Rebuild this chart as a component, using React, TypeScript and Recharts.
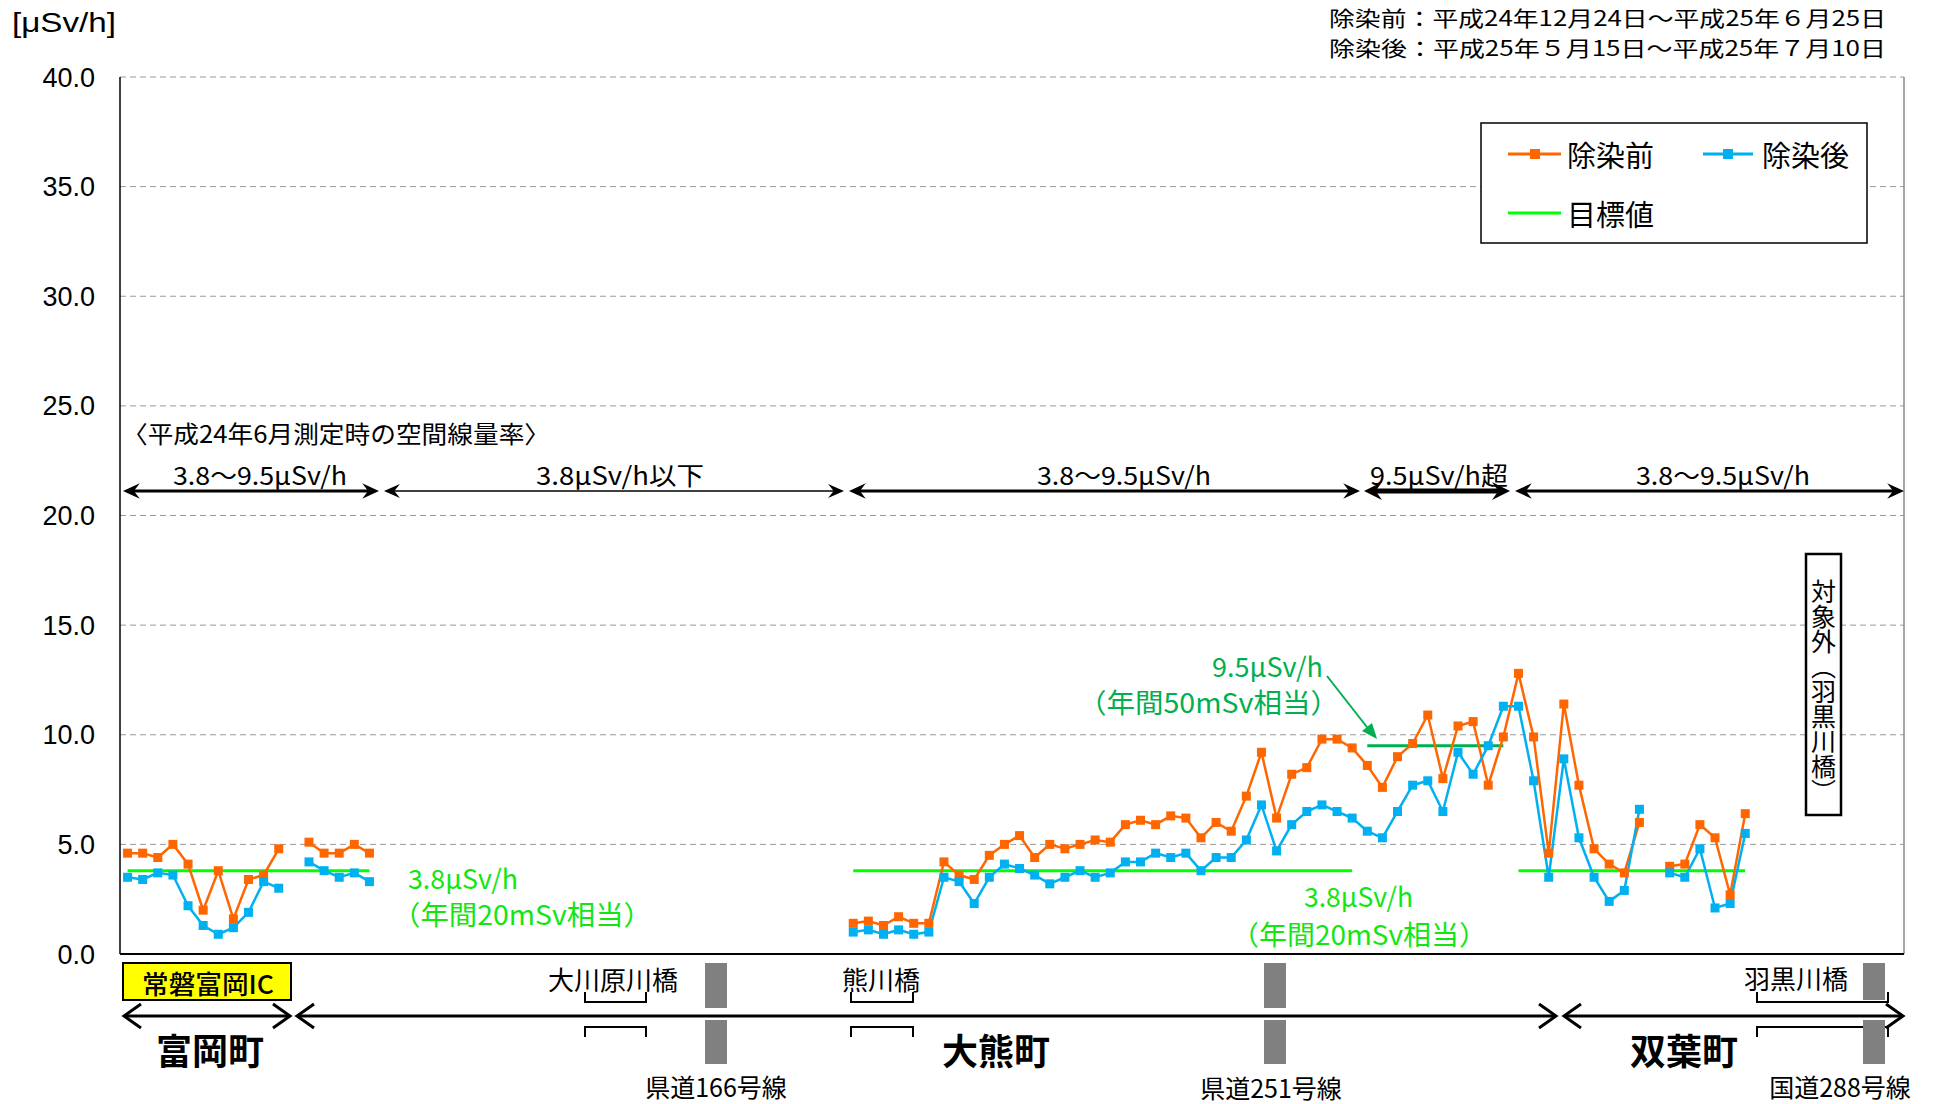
import React from 'react';
import { LineChart, Line, XAxis, YAxis, CartesianGrid, ReferenceLine } from 'recharts';

// ---------- data ----------
const categoryCount = 118;
const xTicks = [0, 5, 10, 15, 20, 25, 30, 35, 40, 45, 50, 55, 60, 65, 70, 75, 80, 85, 90, 95, 100, 105, 110, 115];
const yTicks = [0, 5, 10, 15, 20, 25, 30, 35, 40];

// 富岡町 section (categories 0..16)
const tomiokaStart = 0;
const beforeTomioka = [4.6, 4.6, 4.4, 5.0, 4.1, 2.0, 3.8, 1.6, 3.4, 3.6, 4.8, null, 5.1, 4.6, 4.6, 5.0, 4.6];
const afterTomioka = [3.5, 3.4, 3.7, 3.6, 2.2, 1.3, 0.9, 1.2, 1.9, 3.3, 3.0, null, 4.2, 3.8, 3.5, 3.7, 3.3];

// 大熊町・双葉町 section (categories 48..107)
const okumaStart = 48;
const beforeOkuma = [
  1.4, 1.5, 1.3, 1.7, 1.4, 1.4,
  4.2, 3.6, 3.4, 4.5, 5.0, 5.4, 4.4, 5.0, 4.8, 5.0,
  5.2, 5.1, 5.9, 6.1, 5.9, 6.3, 6.2, 5.3, 6.0, 5.6,
  7.2, 9.2, 6.2, 8.2, 8.5, 9.8, 9.8, 9.4, 8.6, 7.6,
  9.0, 9.6, 10.9, 8.0, 10.4, 10.6, 7.7, 9.9, 12.8, 9.9,
  4.6, 11.4, 7.7, 4.8, 4.1, 3.7, 6.0, null, 4.0, 4.1,
  5.9, 5.3, 2.7, 6.4,
];
const afterOkuma = [
  1.0, 1.1, 0.9, 1.1, 0.9, 1.0,
  3.5, 3.3, 2.3, 3.5, 4.1, 3.9, 3.6, 3.2, 3.5, 3.8,
  3.5, 3.7, 4.2, 4.2, 4.6, 4.4, 4.6, 3.8, 4.4, 4.4,
  5.2, 6.8, 4.7, 5.9, 6.5, 6.8, 6.5, 6.2, 5.6, 5.3,
  6.5, 7.7, 7.9, 6.5, 9.2, 8.2, 9.5, 11.3, 11.3, 7.9,
  3.5, 8.9, 5.3, 3.5, 2.4, 2.9, 6.6, null, 3.7, 3.5,
  4.8, 2.1, 2.3, 5.5,
];

// 目標値 runs [first category, last category]
const targetValue = 3.8;
const targetRuns = [[0, 16], [48, 81], [92, 107]];
const highValue = 9.5;
const highRuns = [[82, 91]];

const pick = (arr: (number | null)[], start: number, i: number) =>
  i >= start && i < start + arr.length ? arr[i - start] : null;
const inRuns = (runs: number[][], i: number) => runs.some(([a, b]) => i >= a && i <= b);

const data = Array.from({ length: categoryCount }, (_, i) => ({
  x: i + 0.5,
  before: pick(beforeTomioka, tomiokaStart, i) ?? pick(beforeOkuma, okumaStart, i),
  after: pick(afterTomioka, tomiokaStart, i) ?? pick(afterOkuma, okumaStart, i),
  target: inRuns(targetRuns, i) ? targetValue : null,
  high: inRuns(highRuns, i) ? highValue : null,
}));

// ---------- styles ----------
const ORANGE = '#ff6600';
const BLUE = '#00b0f0';
const LIME = '#00ff00';
const LIME_TEXT = '#11e611';
const DARKGREEN = '#00b050';
const JP = "'Noto Sans CJK JP', 'Noto Sans', sans-serif";
const NUM = "'Liberation Sans', Arial, sans-serif";

const squareDot = (color: string) => (props: any) => {
  const { cx, cy, index } = props;
  if (cx == null || cy == null || Number.isNaN(cx) || Number.isNaN(cy)) return <g key={`d${index}`} />;
  return <rect key={`d${index}`} x={cx - 4.5} y={cy - 4.5} width={9} height={9} fill={color} />;
};

function FilledArrow({ x1, x2, y, w }: { x1: number; x2: number; y: number; w: number }) {
  const L = 15 + w * 0.6;
  const H = 6 + w * 0.6;
  return (
    <g>
      <line x1={x1 + L * 0.5} x2={x2 - L * 0.5} y1={y} y2={y} stroke="#000" strokeWidth={w} />
      <polygon points={`${x1},${y} ${x1 + L},${y - H} ${x1 + L * 0.65},${y} ${x1 + L},${y + H}`} fill="#000" />
      <polygon points={`${x2},${y} ${x2 - L},${y - H} ${x2 - L * 0.65},${y} ${x2 - L},${y + H}`} fill="#000" />
    </g>
  );
}

function ChevronArrow({ x1, x2, y }: { x1: number; x2: number; y: number }) {
  return (
    <g stroke="#000" strokeWidth={3} fill="none">
      <line x1={x1 + 1} x2={x2 - 1} y1={y} y2={y} />
      <polyline points={`${x1 + 18},${y - 12} ${x1 + 1},${y} ${x1 + 18},${y + 12}`} />
      <polyline points={`${x2 - 18},${y - 12} ${x2 - 1},${y} ${x2 - 18},${y + 12}`} />
    </g>
  );
}

function Brackets({ x1, x2 }: { x1: number; x2: number }) {
  return (
    <g stroke="#000" strokeWidth={2} fill="none">
      <path d={`M${x1},992 L${x1},1002 L${x2},1002 L${x2},992`} />
      <path d={`M${x1},1037 L${x1},1027 L${x2},1027 L${x2},1037`} />
    </g>
  );
}

const zones = [
  { x1: 123, x2: 379, w: 3, label: '3.8～9.5μSv/h', lx: 173, lw: 174 },
  { x1: 384, x2: 844, w: 1.5, label: '3.8μSv/h以下', lx: 536, lw: 168 },
  { x1: 849, x2: 1360, w: 3, label: '3.8～9.5μSv/h', lx: 1037, lw: 174 },
  { x1: 1364, x2: 1510, w: 5, label: '9.5μSv/h超', lx: 1370, lw: 138 },
  { x1: 1515, x2: 1904, w: 3, label: '3.8～9.5μSv/h', lx: 1636, lw: 174 },
];

function T(props: any) {
  const { children, ...rest } = props;
  return (
    <text fontFamily={JP} dominantBaseline="central" lengthAdjust="spacingAndGlyphs" {...rest}>
      {children}
    </text>
  );
}

function Overlay() {
  return (
    <svg width={1935} height={1104} style={{ position: 'absolute', left: 0, top: 0, pointerEvents: 'none' }}>
      {/* unit */}
      <T x={12} y={22} fontFamily={NUM} fontSize={28} textLength={104}>[μSv/h]</T>
      {/* period */}
      <T x={1329} y={17} fontSize={21} textLength={557}>除染前：平成24年12月24日～平成25年６月25日</T>
      <T x={1329} y={47} fontSize={21} textLength={557}>除染後：平成25年５月15日～平成25年７月10日</T>

      {/* legend */}
      <rect x={1481} y={123} width={386} height={120} fill="#fff" stroke="#000" strokeWidth={1.5} />
      <line x1={1508} x2={1561} y1={154} y2={154} stroke={ORANGE} strokeWidth={3} />
      <rect x={1530} y={149} width={10} height={10} fill={ORANGE} />
      <T x={1567} y={154} fontSize={29}>除染前</T>
      <line x1={1703} x2={1753} y1={154} y2={154} stroke={BLUE} strokeWidth={3} />
      <rect x={1723} y={149} width={10} height={10} fill={BLUE} />
      <T x={1762} y={154} fontSize={29}>除染後</T>
      <line x1={1508} x2={1561} y1={213} y2={213} stroke={LIME} strokeWidth={3} />
      <T x={1567} y={213} fontSize={29}>目標値</T>

      {/* June 2012 air dose zones */}
      <T x={122} y={432} fontSize={24} textLength={428}>〈平成24年6月測定時の空間線量率〉</T>
      {zones.map((z, k) => (
        <g key={k}>
          <FilledArrow x1={z.x1} x2={z.x2} y={491} w={z.w} />
          <T x={z.lx} y={474} fontSize={25} textLength={z.lw}>{z.label}</T>
        </g>
      ))}

      {/* target labels */}
      <T x={408} y={877} fontSize={27} fill={LIME_TEXT} textLength={110}>3.8μSv/h</T>
      <T x={392} y={913} fontSize={27} fill={LIME_TEXT} textLength={260}>（年間20mSv相当）</T>
      <T x={1304} y={895} fontSize={27} fill={LIME_TEXT} textLength={109}>3.8μSv/h</T>
      <T x={1231} y={933} fontSize={27} fill={LIME_TEXT} textLength={256}>（年間20mSv相当）</T>
      <T x={1212} y={665} fontSize={27} fill={DARKGREEN} textLength={111}>9.5μSv/h</T>
      <T x={1078} y={701} fontSize={27} fill={DARKGREEN} textLength={261}>（年間50mSv相当）</T>
      <line x1={1327} y1={676} x2={1370} y2={731} stroke={DARKGREEN} strokeWidth={2} />
      <polygon points="1377,739 1362,731 1372,723" fill={DARKGREEN} />

      {/* out of scope box */}
      <rect x={1806} y={554} width={35} height={261} fill="#fff" stroke="#000" strokeWidth={2.5} />
      <text x={1823.5} y={579} fontFamily={JP} fontSize={25} style={{ writingMode: 'vertical-rl' } as any}>対象外（羽黒川橋）</text>

      {/* below axis */}
      <rect x={123} y={963} width={168} height={37} fill="#ffff00" stroke="#000" strokeWidth={2} />
      <T x={142} y={982} fontSize={26} fontWeight={500} textLength={132}>常磐富岡IC</T>

      <T x={613} y={978} fontSize={26} textAnchor="middle">大川原川橋</T>
      <Brackets x1={585} x2={646} />
      <T x={881} y={978} fontSize={26} textAnchor="middle">熊川橋</T>
      <Brackets x1={851} x2={913} />
      <T x={1796} y={977} fontSize={26} textAnchor="middle">羽黒川橋</T>
      <Brackets x1={1757} x2={1888} />

      <rect x={705} y={963} width={22} height={45} fill="#808080" />
      <rect x={705} y={1020} width={22} height={44} fill="#808080" />
      <rect x={1264} y={963} width={22} height={45} fill="#808080" />
      <rect x={1264} y={1020} width={22} height={44} fill="#808080" />
      <rect x={1863} y={963} width={22} height={37} fill="#808080" />
      <rect x={1863} y={1020} width={22} height={44} fill="#808080" />

      <T x={716} y={1086} fontSize={25} textAnchor="middle">県道166号線</T>
      <T x={1271} y={1087} fontSize={25} textAnchor="middle">県道251号線</T>
      <T x={1840} y={1086} fontSize={25} textAnchor="middle">国道288号線</T>

      <ChevronArrow x1={123} x2={291} y={1016} />
      <ChevronArrow x1={296} x2={1557} y={1016} />
      <ChevronArrow x1={1563} x2={1904} y={1016} />

      <T x={210} y={1049} fontSize={36} fontWeight={700} textAnchor="middle">富岡町</T>
      <T x={996} y={1049} fontSize={36} fontWeight={700} textAnchor="middle">大熊町</T>
      <T x={1684} y={1049} fontSize={36} fontWeight={700} textAnchor="middle">双葉町</T>
    </svg>
  );
}

export default function App() {
  return (
    <div style={{ position: 'relative', width: 1935, height: 1104, background: '#fff' }}>
      <style>{`body{margin:0;}`}</style>
      <LineChart width={1935} height={1104} data={data} margin={{ top: 77, right: 31, bottom: 120, left: 0 }}>
        <CartesianGrid vertical={false} stroke="#999" strokeDasharray="6 4" />
        <XAxis
          type="number"
          dataKey="x"
          domain={[0, categoryCount]}
          ticks={xTicks}
          interval={0}
          height={30}
          tick={false}
          tickSize={-8}
          tickLine={{ stroke: '#888', strokeWidth: 1.5 }}
          axisLine={{ stroke: '#000', strokeWidth: 2 }}
          allowDataOverflow
        />
        <YAxis
          type="number"
          domain={[0, 40]}
          ticks={yTicks}
          interval={0}
          width={120}
          tickSize={0}
          tickMargin={25}
          tickLine={false}
          tickFormatter={(v: number) => v.toFixed(1)}
          tick={{ fill: '#000', fontSize: 27, fontFamily: NUM }}
          axisLine={{ stroke: '#000', strokeWidth: 1.5 }}
          allowDataOverflow
        />
        <ReferenceLine x={categoryCount} stroke="#888" strokeWidth={1.5} />
        <Line dataKey="target" stroke={LIME} strokeWidth={3} dot={false} activeDot={false} connectNulls={false} isAnimationActive={false} />
        <Line dataKey="high" stroke={DARKGREEN} strokeWidth={3} dot={false} activeDot={false} connectNulls={false} isAnimationActive={false} />
        <Line dataKey="before" stroke={ORANGE} strokeWidth={2.5} dot={squareDot(ORANGE)} activeDot={false} connectNulls={false} isAnimationActive={false} />
        <Line dataKey="after" stroke={BLUE} strokeWidth={2.5} dot={squareDot(BLUE)} activeDot={false} connectNulls={false} isAnimationActive={false} />
      </LineChart>
      <Overlay />
    </div>
  );
}
